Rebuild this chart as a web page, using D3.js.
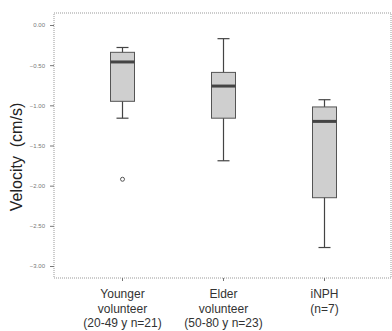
<!DOCTYPE html>
<html>
<head>
<meta charset="utf-8">
<script src="https://cdn.jsdelivr.net/npm/d3@7"></script>
<style>
  body { margin: 0; background: #fff; }
  svg { display: block; font-family: "Liberation Sans", Arial, sans-serif; }
</style>
</head>
<body>
<svg id="chart" width="392" height="331"></svg>
<script>
// groups and their label lines
const groups = ["young", "elder", "inph"];
const groupLabels = [
  ["Younger", "volunteer", "(20-49 y n=21)"],
  ["Elder", "volunteer", "(50-80 y n=23)"],
  ["iNPH", "(n=7)"]
];
// box stats (cm/s)
const whiskerLow = [-1.16, -1.69, -2.77];
const q1 = [-0.95, -1.16, -2.15];
const median = [-0.46, -0.76, -1.20];
const q3 = [-0.34, -0.59, -1.02];
const whiskerHigh = [-0.28, -0.17, -0.93];
const outliers = [[-1.92], [], []];
const yTicks = [0, -0.5, -1.0, -1.5, -2.0, -2.5, -3.0];

const svg = d3.select("#chart");
const frame = { left: 54, top: 13, right: 391, bottom: 278 };

const y = d3.scaleLinear().domain([0, -3]).range([25, 266]);
const x = d3.scaleBand().domain(groups).range([72, 375]);
const bw = 24;

const data = groups.map((g, i) => ({
  g, lo: whiskerLow[i], q1: q1[i], med: median[i], q3: q3[i], hi: whiskerHigh[i], out: outliers[i]
}));

// frame
svg.append("rect")
  .attr("x", frame.left).attr("y", frame.top)
  .attr("width", frame.right - frame.left).attr("height", frame.bottom - frame.top)
  .attr("fill", "none").attr("stroke", "#999").attr("stroke-width", 1)
  .attr("stroke-dasharray", "1,1");

// y axis
const yAxis = svg.append("g")
  .attr("transform", `translate(${frame.left},0)`)
  .call(d3.axisLeft(y).tickValues(yTicks).tickSize(4).tickFormat(d3.format(".2f")));
yAxis.select(".domain").remove();
yAxis.selectAll("line").attr("stroke", "#777");
yAxis.selectAll("text").attr("fill", "#777").style("font-size", "6px").attr("dx", "-2");

// x axis ticks
const xAxis = svg.append("g")
  .attr("transform", `translate(0,${frame.bottom})`)
  .call(d3.axisBottom(x).tickSize(3).tickFormat(""));
xAxis.select(".domain").remove();
xAxis.selectAll("line").attr("stroke", "#777");

// x labels
groups.forEach((g, i) => {
  const t = svg.append("text")
    .attr("x", x(g) + x.bandwidth() / 2)
    .attr("y", 298)
    .attr("text-anchor", "middle")
    .attr("fill", "#333")
    .style("font-size", "12px");
  groupLabels[i].forEach((line, j) => {
    t.append("tspan").attr("x", x(g) + x.bandwidth() / 2).attr("dy", j === 0 ? 0 : 14.5).text(line);
  });
});

// y title
svg.append("text")
  .attr("transform", `translate(22,157) rotate(-90)`)
  .attr("text-anchor", "middle")
  .attr("fill", "#222")
  .style("font-size", "16px")
  .style("white-space", "pre")
  .text("Velocity  (cm/s)");

// boxes
const box = svg.selectAll(".box").data(data).join("g")
  .attr("class", "box")
  .attr("transform", d => `translate(${x(d.g) + x.bandwidth() / 2},0)`);

box.append("line")
  .attr("x1", 0).attr("x2", 0)
  .attr("y1", d => y(d.hi)).attr("y2", d => y(d.lo))
  .attr("stroke", "#444").attr("stroke-width", 1.2);

box.append("line")
  .attr("x1", -6).attr("x2", 6)
  .attr("y1", d => y(d.hi)).attr("y2", d => y(d.hi))
  .attr("stroke", "#444").attr("stroke-width", 1.2);

box.append("line")
  .attr("x1", -6).attr("x2", 6)
  .attr("y1", d => y(d.lo)).attr("y2", d => y(d.lo))
  .attr("stroke", "#444").attr("stroke-width", 1.2);

box.append("rect")
  .attr("x", -bw / 2).attr("width", bw)
  .attr("y", d => y(d.q3)).attr("height", d => y(d.q1) - y(d.q3))
  .attr("fill", "#cfcfcf").attr("stroke", "#555").attr("stroke-width", 1);

box.append("line")
  .attr("x1", -bw / 2).attr("x2", bw / 2)
  .attr("y1", d => y(d.med)).attr("y2", d => y(d.med))
  .attr("stroke", "#444").attr("stroke-width", 3);

box.selectAll("circle").data(d => d.out).join("circle")
  .attr("cx", 0).attr("cy", v => y(v)).attr("r", 2)
  .attr("fill", "none").attr("stroke", "#555").attr("stroke-width", 1);
</script>
</body>
</html>
